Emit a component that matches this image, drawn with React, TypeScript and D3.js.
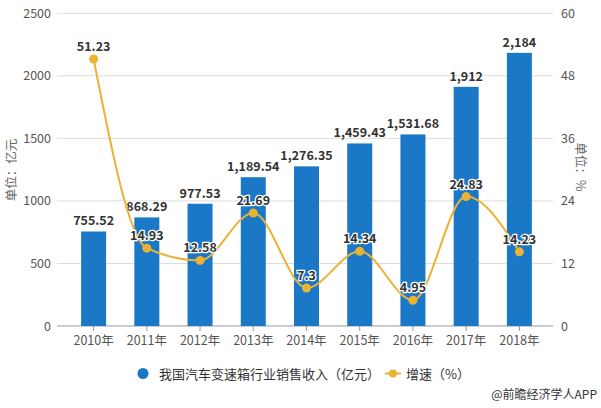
import React from "react";
import * as d3 from "d3";

const years = ["2010年", "2011年", "2012年", "2013年", "2014年", "2015年", "2016年", "2017年", "2018年"];
const revenue = [755.52, 868.29, 977.53, 1189.54, 1276.35, 1459.43, 1531.68, 1912, 2184];
const revenueLabels = ["755.52", "868.29", "977.53", "1,189.54", "1,276.35", "1,459.43", "1,531.68", "1,912", "2,184"];
const growth = [51.23, 14.93, 12.58, 21.69, 7.3, 14.34, 4.95, 24.83, 14.23];
const leftTicks = [0, 500, 1000, 1500, 2000, 2500];
const rightTicks = [0, 12, 24, 36, 48, 60];
const legendBar = "我国汽车变速箱行业销售收入（亿元）";
const legendLine = "增速（%）";
const leftTitle = "单位：亿元";
const rightTitle = "单位：%";
const source = "@前瞻经济学人APP";

const W = 601;
const H = 408;
const BLUE = "#1a78c6";
const GOLD = "#ecb232";
const FONT = "'Noto Sans CJK SC', 'Microsoft YaHei', sans-serif";

export default function App() {
  const gridX0 = 57;
  const gridX1 = 553;
  const x = d3.scaleBand<string>().domain(years).range([67, 546]).paddingInner(0.53).paddingOuter(0.265);
  const yL = d3.scaleLinear().domain([0, 2500]).range([326, 13.3]);
  const yR = d3.scaleLinear().domain([0, 60]).range([326, 13.3]);
  const cx = (d: string) => (x(d) as number) + x.bandwidth() / 2;

  const line = d3
    .line<number>()
    .x((_, i) => cx(years[i]))
    .y((d) => yR(d))
    .curve(d3.curveMonotoneX);

  return (
    <svg width={W} height={H} style={{ position: "absolute", left: 0, top: 0, background: "#fff" }} fontFamily={FONT}>
      <rect width={W} height={H} fill="#fff" />
      {/* grid */}
      {leftTicks.map((t) => (
        <line key={"g" + t} x1={gridX0} x2={gridX1} y1={yL(t)} y2={yL(t)} stroke={t === 0 ? "#999" : "#dcdcdc"} strokeWidth={1} />
      ))}
      {/* left ticks */}
      {leftTicks.map((t) => (
        <text key={"l" + t} x={51} y={yL(t) + 4.5} textAnchor="end" fontSize={12.5} fill="#555">
          {t}
        </text>
      ))}
      {/* right ticks */}
      {rightTicks.map((t) => (
        <text key={"r" + t} x={561} y={yR(t) + 4.5} textAnchor="start" fontSize={12.5} fill="#555">
          {t}
        </text>
      ))}
      {/* axis titles */}
      <text transform={`translate(16,${170}) rotate(-90)`} textAnchor="middle" fontSize={12.5} fill="#666">
        {leftTitle}
      </text>
      <text transform={`translate(576,${167}) rotate(90)`} textAnchor="middle" fontSize={12.5} fill="#666">
        {rightTitle}
      </text>
      {/* x ticks & labels */}
      {years.map((y) => (
        <g key={"x" + y}>
          <line x1={cx(y)} x2={cx(y)} y1={326} y2={331} stroke="#999" />
          <text x={cx(y)} y={345} textAnchor="middle" fontSize={12.5} fill="#555">
            {y}
          </text>
        </g>
      ))}
      {/* bars */}
      {revenue.map((v, i) => (
        <rect key={"b" + i} x={x(years[i])} y={yL(v)} width={x.bandwidth()} height={326 - yL(v)} fill={BLUE} />
      ))}
      {/* bar labels */}
      {revenue.map((v, i) => (
        <text key={"bl" + i} x={cx(years[i])} y={yL(v) - 6} textAnchor="middle" fontSize={12.5} fontWeight="bold" fill="#333">
          {revenueLabels[i]}
        </text>
      ))}
      {/* line */}
      <path d={line(growth) || ""} fill="none" stroke={GOLD} strokeWidth={2} />
      {growth.map((v, i) => (
        <circle key={"c" + i} cx={cx(years[i])} cy={yR(v)} r={4.5} fill={GOLD} />
      ))}
      {growth.map((v, i) => (
        <text
          key={"gl" + i}
          x={cx(years[i])}
          y={yR(v) - 8}
          textAnchor="middle"
          fontSize={12.5}
          fontWeight="bold"
          fill="#333"
          stroke="#fff"
          strokeWidth={2.5}
          paintOrder="stroke"
        >
          {v}
        </text>
      ))}
      {/* legend */}
      <circle cx={143} cy={373.5} r={5.5} fill={BLUE} />
      <text x={159} y={378.5} fontSize={13} fill="#333">
        {legendBar}
      </text>
      <line x1={385} x2={401} y1={373.5} y2={373.5} stroke={GOLD} strokeWidth={2} />
      <circle cx={393} cy={373.5} r={4} fill={GOLD} />
      <text x={406} y={378.5} fontSize={13} fill="#333">
        {legendLine}
      </text>
      {/* source */}
      <text x={597} y={399} textAnchor="end" fontSize={12} fill="#333">
        {source}
      </text>
    </svg>
  );
}
